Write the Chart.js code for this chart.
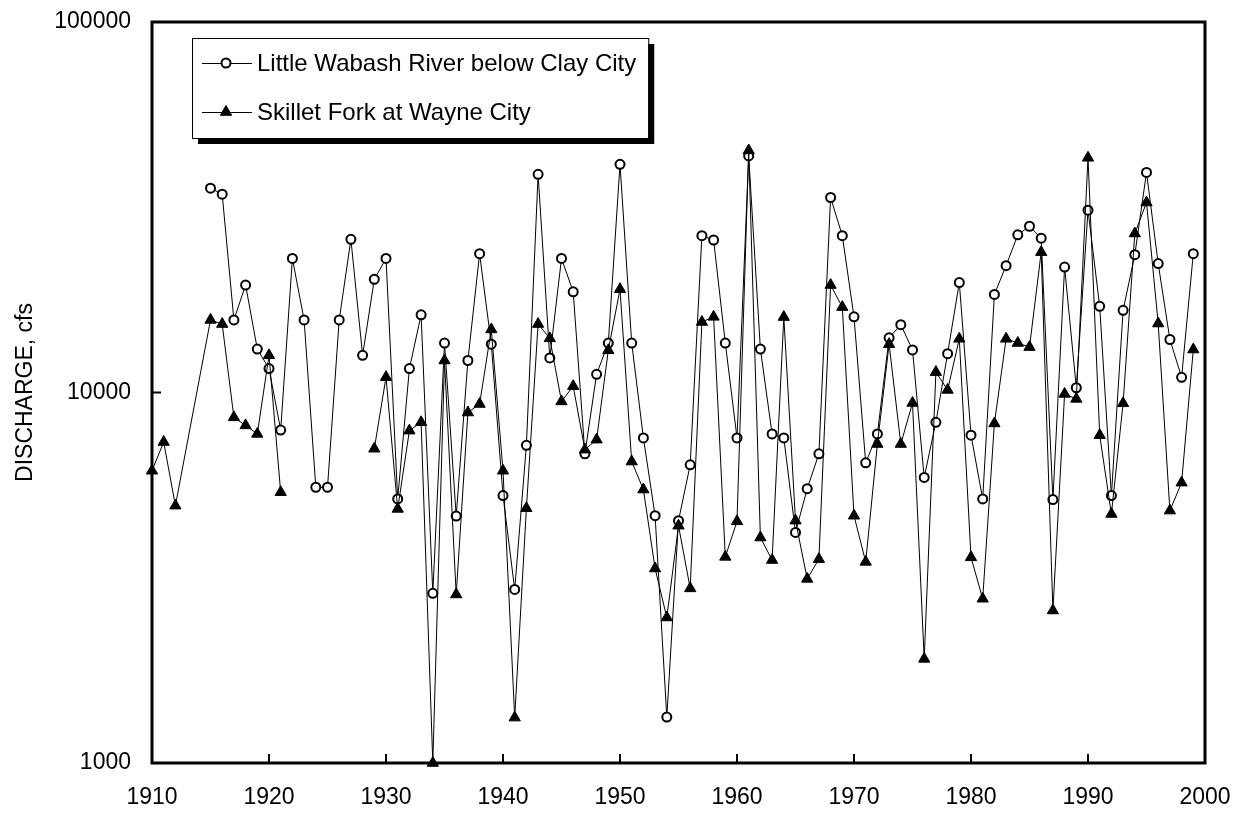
<!DOCTYPE html>
<html>
<head>
<meta charset="utf-8">
<script src="https://cdn.jsdelivr.net/npm/chart.js@4"></script>
<style>
  html, body { margin: 0; padding: 0; background: #fff; }
  #wrap { width: 1239px; height: 814px; }
</style>
</head>
<body>
<div id="wrap"><canvas id="c" width="1239" height="814"></canvas></div>
<script>
// ---- Data ----
const wabashName = "Little Wabash River below Clay City";
const skilletName = "Skillet Fork at Wayne City";

const wabashYears = [1915,1916,1917,1918,1919,1920,1921,1922,1923,1924,1925,1926,1927,1928,1929,
  1930,1931,1932,1933,1934,1935,1936,1937,1938,1939,1940,1941,1942,1943,1944,1945,1946,1947,1948,1949,
  1950,1951,1952,1953,1954,1955,1956,1957,1958,1959,1960,1961,1962,1963,1964,1965,1966,1967,1968,1969,
  1970,1971,1972,1973,1974,1975,1976,1977,1978,1979,1980,1981,1982,1983,1984,1985,1986,1987,1988,1989,
  1990,1991,1992,1993,1994,1995,1996,1997,1998,1999];
const wabashValues = [35600,34300,15700,19500,13100,11600,7920,23000,15700,5550,5550,15700,25900,12600,20200,
  23000,5160,11600,16200,2870,13600,4640,12200,23700,13500,5270,2940,7200,38800,12400,23000,18700,6830,11200,13600,
  41300,13600,7540,4650,1330,4510,6380,26500,25800,13600,7540,43500,13100,7730,7540,4190,5500,6830,33600,26500,
  16000,6460,7730,14050,15240,13030,5900,8310,12730,19800,7670,5160,18400,22000,26650,28100,26100,5140,21800,10300,
  31050,17080,5270,16660,23550,39250,22280,13900,10990,23700];

// null marks the unrecorded 1922-1928 break (line not drawn across it)
const skilletYears = [1910,1911,1912,1915,1916,1917,1918,1919,1920,1921,1925,
  1929,1930,1931,1932,1933,1934,1935,1936,1937,1938,1939,1940,1941,1942,1943,1944,1945,1946,1947,1948,1949,
  1950,1951,1952,1953,1954,1955,1956,1957,1958,1959,1960,1961,1962,1963,1964,1965,1966,1967,1968,1969,
  1970,1971,1972,1973,1974,1975,1976,1977,1978,1979,1980,1981,1982,1983,1984,1985,1986,1987,1988,1989,
  1990,1991,1992,1993,1994,1995,1996,1997,1998,1999];
const skilletValues = [6150,7350,4950,15700,15300,8570,8150,7730,12600,5380,null,
  7050,11000,4850,7890,8310,1000,12200,2850,8830,9310,14800,6150,1326,4870,15300,14000,9460,10400,7010,7460,13000,
  19000,6510,5470,3350,2470,4370,2960,15500,16000,3600,4490,45000,4060,3530,15980,4510,3140,3550,19500,17000,
  4650,3490,7260,13500,7260,9370,1910,11350,10160,13960,3590,2775,8250,13960,13600,13260,23920,2580,9910,9610,
  43000,7670,4700,9350,26860,32560,15350,4800,5710,13060];

const xTicks = [1910,1920,1930,1940,1950,1960,1970,1980,1990,2000];
const yTicks = [1000,10000,100000];
const yTitle = "DISCHARGE, cfs";

// ---- Chart ----
const FONT = "'Liberation Sans', Arial, Helvetica, sans-serif";

const frame = {
  id: 'frame',
  beforeDatasetsDraw(chart) {
    const {ctx, chartArea: a, scales} = chart;
    ctx.save();
    ctx.strokeStyle = '#000';
    ctx.lineWidth = 2;
    ctx.beginPath();
    xTicks.forEach(v => {
      const px = scales.x.getPixelForValue(v);
      ctx.moveTo(px, a.bottom);
      ctx.lineTo(px, a.bottom - 9);
    });
    yTicks.forEach(v => {
      const py = scales.y.getPixelForValue(v);
      ctx.moveTo(a.left, py);
      ctx.lineTo(a.left + 9, py);
    });
    ctx.stroke();
    ctx.lineWidth = 3;
    ctx.strokeRect(a.left, a.top, a.right - a.left, a.bottom - a.top);
    ctx.restore();
  },
  afterDatasetsDraw(chart) {
    const {ctx} = chart;
    ctx.save();
    // Legend box with shadow
    const bx = 192, by = 38, fontPx = 24;
    ctx.font = fontPx + 'px ' + FONT;
    const tw = Math.max(ctx.measureText(wabashName).width, ctx.measureText(skilletName).width);
    const bw = 257 - bx + tw + 12, bh = 100;
    ctx.fillStyle = '#000';
    ctx.fillRect(bx + 6, by + 6, bw, bh);
    ctx.fillStyle = '#fff';
    ctx.fillRect(bx, by, bw, bh);
    ctx.lineWidth = 1;
    ctx.strokeStyle = '#000';
    ctx.strokeRect(bx + 0.5, by + 0.5, bw, bh);

    const rows = [{y: 63, name: wabashName, tri: false}, {y: 112, name: skilletName, tri: true}];
    rows.forEach(r => {
      ctx.lineWidth = 1;
      ctx.strokeStyle = '#000';
      ctx.beginPath();
      ctx.moveTo(202, r.y + 0.5); ctx.lineTo(252, r.y + 0.5);
      ctx.stroke();
      if (r.tri) {
        const rad = 6.5;
        ctx.fillStyle = '#000';
        ctx.beginPath();
        ctx.moveTo(226, r.y - rad);
        ctx.lineTo(226 + rad * 0.866, r.y + rad * 0.5);
        ctx.lineTo(226 - rad * 0.866, r.y + rad * 0.5);
        ctx.closePath();
        ctx.fill();
        ctx.stroke();
      } else {
        ctx.fillStyle = '#fff';
        ctx.lineWidth = 2;
        ctx.beginPath();
        ctx.arc(226, r.y, 4.5, 0, Math.PI * 2);
        ctx.fill();
        ctx.stroke();
      }
      ctx.fillStyle = '#000';
      ctx.textBaseline = 'middle';
      ctx.textAlign = 'left';
      ctx.fillText(r.name, 257, r.y + 1);
    });
    ctx.restore();
  }
};

new Chart(document.getElementById('c'), {
  type: 'line',
  data: {
    datasets: [
      {
        label: wabashName,
        data: wabashYears.map((yr, i) => ({x: yr, y: wabashValues[i]})),
        borderColor: '#000', borderWidth: 1,
        pointStyle: 'circle', pointRadius: 4.5, pointBorderWidth: 2,
        pointBackgroundColor: '#fff', pointBorderColor: '#000',
        tension: 0, order: 1, clip: false
      },
      {
        label: skilletName,
        data: skilletYears.map((yr, i) => ({x: yr, y: skilletValues[i]})),
        borderColor: '#000', borderWidth: 1,
        pointStyle: 'triangle', pointRadius: 6.5, pointBorderWidth: 1,
        pointBackgroundColor: '#000', pointBorderColor: '#000',
        tension: 0, spanGaps: false, order: 0, clip: false
      }
    ]
  },
  options: {
    responsive: false,
    animation: false,
    layout: { padding: { left: 0, right: 34, top: 22, bottom: 0 } },
    plugins: { legend: { display: false }, tooltip: { enabled: false } },
    scales: {
      x: {
        type: 'linear', min: 1910, max: 2000,
        afterFit: s => { s.height = 51; s.paddingLeft = 0; s.paddingRight = 0; },
        afterBuildTicks: s => { s.ticks = xTicks.map(v => ({value: v})); },
        grid: { display: false, drawTicks: false },
        border: { display: false },
        ticks: { color: '#000', font: { family: FONT, size: 23 }, padding: 21, maxRotation: 0,
                 callback: v => String(v) }
      },
      y: {
        type: 'logarithmic', min: 1000, max: 100000,
        afterFit: s => { s.width = 152; s.paddingTop = 0; s.paddingBottom = 0; },
        afterBuildTicks: s => { s.ticks = yTicks.map(v => ({value: v})); },
        grid: { display: false, drawTicks: false },
        border: { display: false },
        ticks: { color: '#000', font: { family: FONT, size: 23 }, padding: 21, autoSkip: false,
                 callback: v => String(v) },
        title: { display: true, text: yTitle, color: '#000', font: { family: FONT, size: 23 },
                 padding: { top: 12, bottom: 0 } }
      }
    }
  },
  plugins: [frame]
});
</script>
</body>
</html>
